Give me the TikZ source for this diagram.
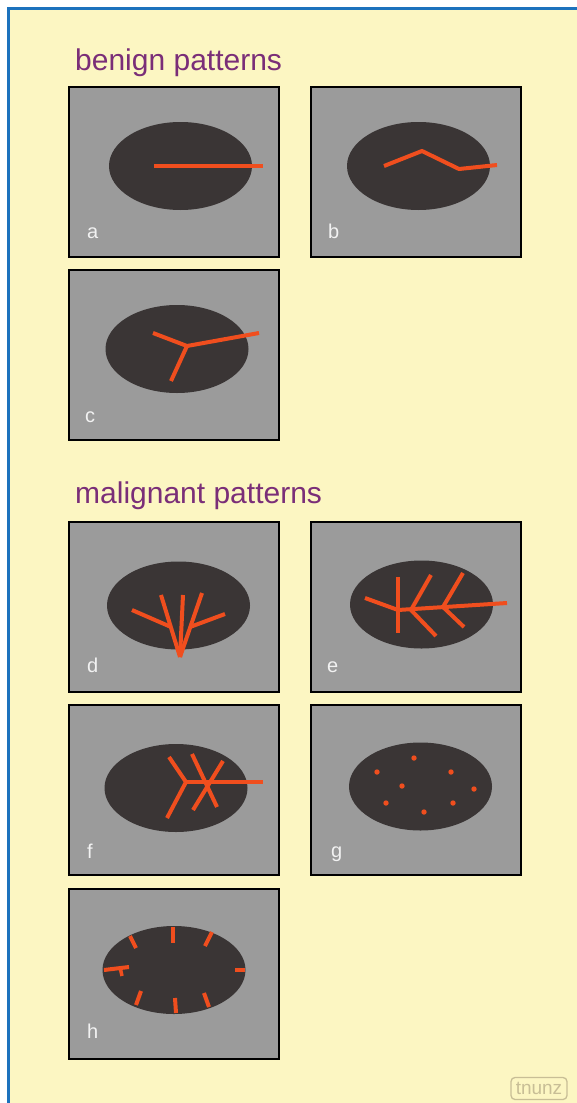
\documentclass[tikz,border=0pt]{standalone}
\usepackage{fontspec}
\setmainfont{Liberation Sans}
\usetikzlibrary{shapes.geometric}
\definecolor{cream}{HTML}{FCF6C2}
\definecolor{frameblue}{HTML}{1C72BD}
\definecolor{titlepurple}{HTML}{7A2E78}
\definecolor{panelgray}{HTML}{9B9B9B}
\definecolor{lesiondark}{HTML}{3A3535}
\definecolor{vesselred}{HTML}{F04E1E}
\definecolor{logotan}{HTML}{C8BE96}
\begin{document}
\begin{tikzpicture}[x=1pt,y=-1pt,
  panel/.style={draw=black, line width=2pt, fill=panelgray, minimum width=210pt,
    minimum height=170pt, anchor=north west, inner sep=0pt},
  lesion/.style={fill=lesiondark, draw=none, ellipse, minimum width=143pt,
    minimum height=88pt, inner sep=0pt},
  vessel/.style={draw=vesselred, line width=4pt, line join=round},
  tag/.style={text=white!90!gray, anchor=base west, inner sep=0pt,
    font=\fontsize{20}{22}\selectfont},
  heading/.style={text=titlepurple, anchor=base west, inner sep=0pt,
    font=\fontsize{30}{36}\selectfont}]

% page, cream field and blue frame
\useasboundingbox (0,0) rectangle (577,1103);
\fill[white] (0,0) rectangle (577,1103);
\fill[cream] (8.5,8.5) rectangle (577,1103);
\draw[frameblue, line width=3pt] (8.5,1103) -- (8.5,8.5) -- (577,8.5);

% headings
\node[heading] (tb) at (75,70) {benign patterns};
\node[heading] (tm) at (75,503) {malignant patterns};

% panels
\node[panel] (pa) at (68,86) {};
\node[panel] (pb) at (310,86) {};
\node[panel] (pc) at (68,269) {};
\node[panel] (pd) at (68,521) {};
\node[panel] (pe) at (310,521) {};
\node[panel] (pf) at (68,704) {};
\node[panel] (pg) at (310,704) {};
\node[panel] (ph) at (68,888) {};

% lesions
\node[lesion] (ea) at (180.5,166) {};
\node[lesion] (eb) at (418.5,166) {};
\node[lesion] (ec) at (177,349) {};
\node[lesion] (ed) at (178.5,605.5) {};
\node[lesion] (ee) at (421.5,604.5) {};
\node[lesion] (ef) at (176,788) {};
\node[lesion] (eg) at (420.5,786.5) {};
\node[lesion] (eh) at (174,970) {};

% panel letters
\node[tag] (la) at (87,238) {a};
\node[tag] (lb) at (328,238) {b};
\node[tag] (lc) at (85,422) {c};
\node[tag] (ld) at (87,672) {d};
\node[tag] (le) at (327,672) {e};
\node[tag] (lf) at (87,858) {f};
\node[tag] (lg) at (331,857) {g};
\node[tag] (lh) at (87,1038) {h};

% a: single straight vessel
\draw[vessel] (154,166) -- (263,166);

% b: bent vessel
\draw[vessel] (384,166) -- (422,151) -- (459,169) -- (497,165);

% c: three-armed vessel
\draw[vessel] (153,333) -- (187,346) -- (259,333);
\draw[vessel] (187,346) -- (171,381);

% d: fan of vessels from a single point
\draw[vessel] (180,657) -- (161,595);
\draw[vessel] (180,657) -- (183,595);
\draw[vessel] (180,657) -- (202,593);
\draw[vessel] (171,627) -- (132,610);
\draw[vessel] (190,627) -- (225,614);

% e: branching vessel tree
\draw[vessel] (365,598) -- (398,610) -- (507,603);
\draw[vessel] (398,577) -- (398,633);
\draw[vessel] (431,575) -- (411,610) -- (436,636);
\draw[vessel] (463,573) -- (443,607) -- (464,627);

% f: vessel with star-shaped crossing
\draw[vessel] (169,757) -- (186,782) -- (167,818);
\draw[vessel] (186,782) -- (263,782);
\draw[vessel] (192,754) -- (217,807);
\draw[vessel] (223,761) -- (193,810);

% g: scattered dots
\foreach \px/\py in {414/758, 377/772, 451/772, 402/786, 474/789, 386/803, 453/803, 424/812}
  \fill[vesselred] (\px,\py) circle (2.7pt);

% h: short vessels at the rim
\draw[vessel] (173,927) -- (173,943);
\draw[vessel] (130,936) -- (136,948);
\draw[vessel] (212,932) -- (205,946);
\draw[vessel] (235,970) -- (245,970);
\draw[vessel] (175,998) -- (176,1013);
\draw[vessel] (141,991) -- (136,1005);
\draw[vessel] (204,993) -- (209,1007);
\draw[vessel] (104,970) -- (129,967);
\draw[vessel, line width=3.5pt] (120,967) -- (122,976);

% logo
\node[draw=logotan, line width=1.3pt, rounded corners=4pt, text=logotan,
  minimum width=56pt, minimum height=22pt, inner sep=0pt,
  font=\fontsize{19}{20}\selectfont] (logo) at (539,1088.5) {tnunz};
\end{tikzpicture}
\end{document}
